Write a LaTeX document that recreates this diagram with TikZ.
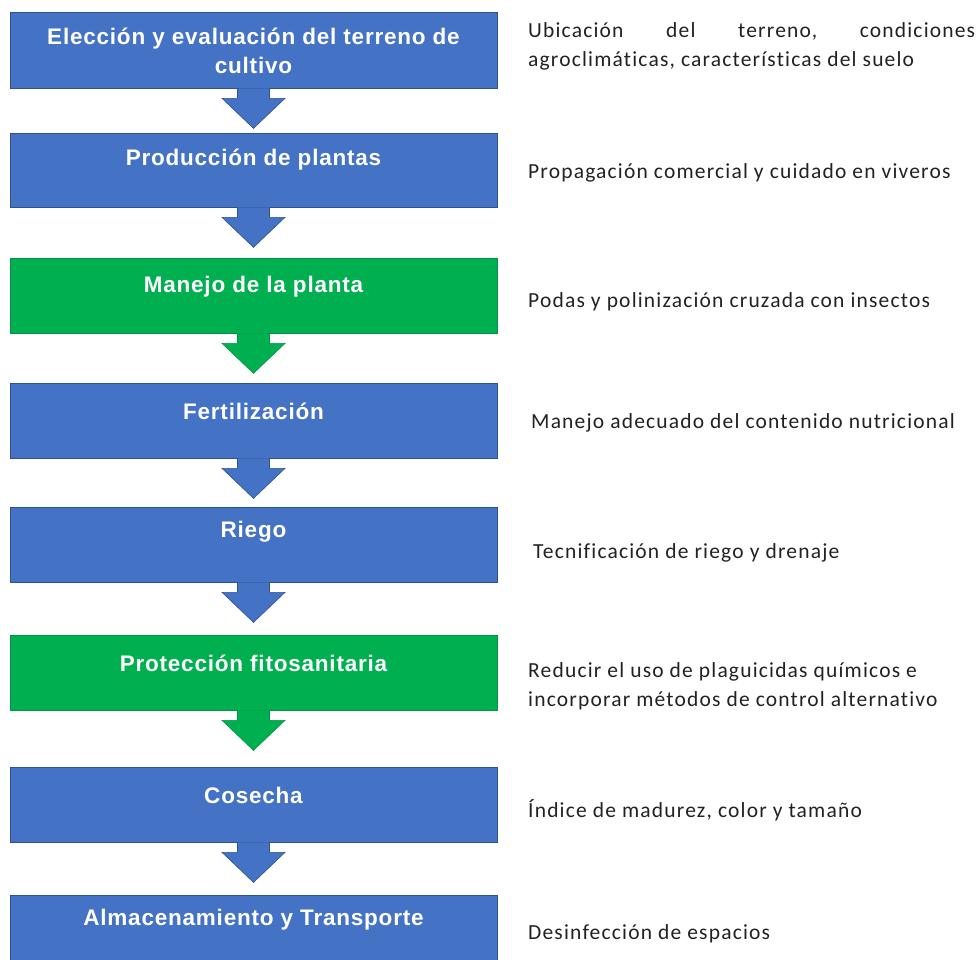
\documentclass[tikz,border=0pt]{standalone}
\usepackage{fontspec}
\setmainfont{Carlito}[LetterSpace=5.5,Ligatures=NoCommon]
\newfontfamily\boxfont{Liberation Sans}[LetterSpace=3.5]
\definecolor{bblue}{HTML}{4472C4}
\definecolor{bblueD}{HTML}{2F528F}
\definecolor{bgreen}{HTML}{00B050}
\definecolor{bgreenD}{HTML}{00944A}
\definecolor{txt}{HTML}{222222}
\tikzset{
  stepbox/.style={rectangle, minimum width=487pt, minimum height=75pt, inner sep=0pt, line width=0.7pt},
  bluebox/.style={stepbox, fill=bblue, draw=bblueD},
  greenbox/.style={stepbox, fill=bgreen, draw=bgreenD},
  boxtext/.style={font=\boxfont\bfseries\fontsize{22.5}{29}\selectfont, text=white, align=center, inner sep=0pt},
  desc/.style={font=\fontsize{21.5}{29}\selectfont, text=txt, anchor=west, inner sep=0pt, align=left},
}
\newcommand\flowarrow[3]{%
  \filldraw[fill=#2, draw=#3, line width=0.6pt, line join=miter]
    ([xshift=-16pt]#1.south) -- ([xshift=-16pt,yshift=-10pt]#1.south)
    -- ([xshift=-31.5pt,yshift=-10pt]#1.south) -- ([yshift=-40pt]#1.south)
    -- ([xshift=31.5pt,yshift=-10pt]#1.south) -- ([xshift=16pt,yshift=-10pt]#1.south)
    -- ([xshift=16pt]#1.south);}
\begin{document}
\begin{tikzpicture}[x=1pt,y=1pt]
\useasboundingbox (0,0) rectangle (979,-959);
\clip (0,0) rectangle (979,-959);
\fill[white] (0,0) rectangle (979,-959);
% boxes
\node[bluebox, minimum height=76pt] (b1) at (253.5,-50) {};
\node[bluebox, minimum height=74pt] (b2) at (253.5,-170) {};
\node[greenbox] (b3) at (253.5,-295.5) {};
\node[bluebox] (b4) at (253.5,-420.5) {};
\node[bluebox] (b5) at (253.5,-544.5) {};
\node[greenbox] (b6) at (253.5,-672.5) {};
\node[bluebox] (b7) at (253.5,-804.5) {};
\node[bluebox] (b8) at (253.5,-932.5) {};
% arrows
\flowarrow{b1}{bblue}{bblueD}
\flowarrow{b2}{bblue}{bblueD}
\flowarrow{b3}{bgreen}{bgreenD}
\flowarrow{b4}{bblue}{bblueD}
\flowarrow{b5}{bblue}{bblueD}
\flowarrow{b6}{bgreen}{bgreenD}
\flowarrow{b7}{bblue}{bblueD}
% box texts
\node[boxtext] (t1) at ([yshift=-39pt]b1.north) {Elección y evaluación del terreno de\\cultivo};
\node[boxtext] (t2) at ([yshift=-27pt]b2.north) {Producción de plantas};
\node[boxtext] (t3) at ([yshift=-29pt]b3.north) {Manejo de la planta};
\node[boxtext] (t4) at ([yshift=-29pt]b4.north) {Fertilización};
\node[boxtext] (t5) at ([yshift=-25pt]b5.north) {Riego};
\node[boxtext] (t6) at ([yshift=-29pt]b6.north) {Protección fitosanitaria};
\node[boxtext] (t7) at ([yshift=-29pt]b7.north) {Cosecha};
\node[boxtext] (t8) at ([yshift=-25pt]b8.north) {Almacenamiento y Transporte};
% descriptions
\node[desc] (d1) at (528,-46) {\hbox to 447pt{Ubicación\hfill del\hfill terreno,\hfill condiciones}\\agroclimáticas, características del suelo};
\node[desc] (d2) at (528,-173) {Propagación comercial y cuidado en viveros};
\node[desc] (d3) at (528,-302) {Podas y polinización cruzada con insectos};
\node[desc] (d4) at (531,-423) {Manejo adecuado del contenido nutricional};
\node[desc] (d5) at (533,-553) {Tecnificación de riego y drenaje};
\node[desc] (d6) at (528,-686) {Reducir el uso de plaguicidas químicos e\\incorporar métodos de control alternativo};
\node[desc] (d7) at (528,-810) {Índice de madurez, color y tamaño};
\node[desc] (d8) at (528,-934) {Desinfección de espacios};
\end{tikzpicture}
\end{document}
